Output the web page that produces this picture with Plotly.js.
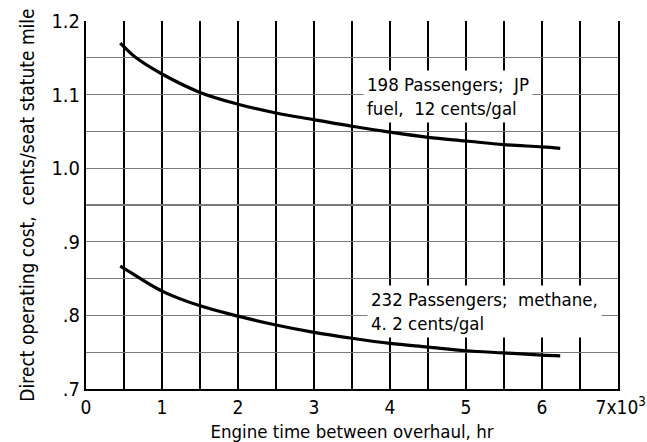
<!DOCTYPE html>
<html>
<head>
<meta charset="utf-8">
<script src="https://cdn.plot.ly/plotly-3.0.1.min.js"></script>
<style>html,body{margin:0;padding:0;background:#fff;}#chart{width:647px;height:442px;}</style>
</head>
<body>
<div id="chart"></div>
<script>
// Engine time between overhaul (thousands of hours)
const jpHours = [0.45, 0.5, 0.66, 1.0, 1.5, 2.0, 2.5, 3.0, 3.5, 4.0, 4.5, 5.0, 5.5, 6.0, 6.24];
// Direct operating cost, cents/seat statute mile — 198 passengers, JP fuel
const jpCost = [1.170, 1.165, 1.150, 1.128, 1.103, 1.087, 1.075, 1.066, 1.057, 1.049, 1.042, 1.037, 1.032, 1.029, 1.027];

const ch4Hours = [0.45, 0.5, 1.0, 1.5, 2.0, 2.5, 3.0, 3.5, 4.0, 4.5, 5.0, 5.5, 6.0, 6.24];
// 232 passengers, methane
const ch4Cost = [0.867, 0.864, 0.833, 0.813, 0.799, 0.787, 0.777, 0.769, 0.762, 0.757, 0.752, 0.749, 0.746, 0.745];

const xTickVals = [0, 0.5, 1, 1.5, 2, 2.5, 3, 3.5, 4, 4.5, 5, 5.5, 6, 6.5, 7];
const xTickText = ['0', '', '1', '', '2', '', '3', '', '4', '', '5', '', '6', '', '\u00a07x10<sup>3</sup>'];
const yTickVals = [0.7, 0.75, 0.8, 0.85, 0.9, 0.95, 1.0, 1.05, 1.1, 1.15, 1.2];
const yTickText = ['.7', '', '.8', '', '.9', '', '1.0', '', '1.1', '', '1.2'];

const labelJP = '198 Passengers;\u00a0\u00a0JP<br>fuel,\u00a0\u00a012 cents/gal';
const labelCH4 = '232 Passengers;\u00a0\u00a0methane,<br>4.\u00a02 cents/gal';

const FONT = '"DejaVu Sans Condensed", "Liberation Sans Narrow", "DejaVu Sans", sans-serif';
const NB = '\u00a0';

const traces = [
  {x: jpHours, y: jpCost, mode: 'lines', line: {color: '#000', width: 3.2, shape: 'spline', smoothing: 1}, hoverinfo: 'skip'},
  {x: ch4Hours, y: ch4Cost, mode: 'lines', line: {color: '#000', width: 3.2, shape: 'spline', smoothing: 1}, hoverinfo: 'skip'}
];

const layout = {
  width: 647, height: 442,
  margin: {l: 86, r: 29, t: 21, b: 53},
  paper_bgcolor: '#fff', plot_bgcolor: '#fff',
  showlegend: false,
  font: {family: FONT, color: '#000', size: 16},
  xaxis: {
    range: [0, 7], tickmode: 'array', tickvals: xTickVals, ticktext: xTickText,
    showgrid: true, gridcolor: '#000', gridwidth: 2,
    showline: true, linecolor: '#000', linewidth: 2, mirror: false,
    ticks: '', zeroline: false, tickfont: {size: 19, family: FONT},
    title: {text: 'Engine time between overhaul, hr' + NB.repeat(5), font: {size: 18.5, family: FONT}, standoff: 8},
    automargin: false
  },
  yaxis: {
    range: [0.7, 1.2], tickmode: 'array', tickvals: yTickVals, ticktext: yTickText,
    showgrid: true, gridcolor: '#7a7a7a', gridwidth: 1.1,
    showline: true, linecolor: '#000', linewidth: 2, mirror: true,
    ticks: '', zeroline: false, tickfont: {size: 20, family: FONT},
    title: {text: 'Direct operating cost,\u00a0\u00a0cents/seat statute mile' + NB.repeat(6), font: {size: 19, family: FONT}, standoff: 12},
    automargin: false
  },
  annotations: [
    {x: 3.645, y: 1.097, xref: 'x', yref: 'y', text: labelJP, showarrow: false, xanchor: 'left', yanchor: 'middle', align: 'left', bgcolor: '#fff', font: {size: 18.5, family: FONT}, borderpad: 3},
    {x: 3.70, y: 0.805, xref: 'x', yref: 'y', text: labelCH4, showarrow: false, xanchor: 'left', yanchor: 'middle', align: 'left', bgcolor: '#fff', font: {size: 18.5, family: FONT}, borderpad: 3}
  ]
};

Plotly.newPlot('chart', traces, layout, {staticPlot: true, displayModeBar: false});
</script>
</body>
</html>
